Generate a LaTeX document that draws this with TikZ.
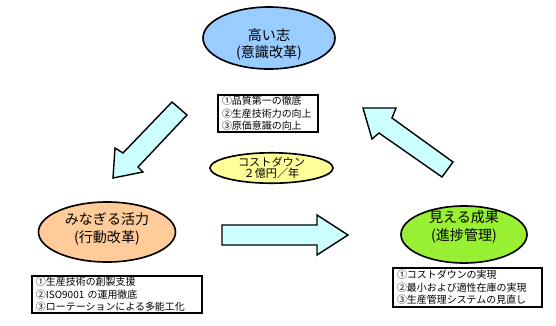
\documentclass[tikz,border=0pt]{standalone}
\usepackage{fontspec}
\setmainfont{Noto Sans CJK JP}
\definecolor{skyblue}{RGB}{153,204,255}
\definecolor{peach}{RGB}{255,204,153}
\definecolor{limegreen}{RGB}{153,240,50}
\definecolor{lemon}{RGB}{255,255,153}
\definecolor{palecyan}{RGB}{204,255,255}
\usepackage{tikz}
\usetikzlibrary{shapes.geometric}

\tikzset{
  topic/.style={ellipse, draw, line width=1.4pt, inner sep=0pt},
  topictext/.style={align=center, font=\fontsize{12pt}{15pt}\selectfont},
  infobox/.style={draw, line width=1.2pt, align=left, inner xsep=0.12cm,
                  inner ysep=0pt, font=\fontsize{8.5pt}{10.6pt}\selectfont},
  blockarrow/.style={draw, line width=1.2pt, fill=palecyan, line join=miter}
}

\begin{document}
\begin{tikzpicture}[x=0.03cm, y=-0.03cm]
  \useasboundingbox (0,0) rectangle (556,325);
  % three goals
  \node[topic, fill=skyblue, minimum width=3.96cm, minimum height=1.86cm,
        label={[topictext, yshift=-0.2cm]center:高い志\\(意識改革)}]
    (aim) at (269,38) {};
  \node[topic, fill=peach, minimum width=4.11cm, minimum height=1.8cm,
        label={[topictext, yshift=0.09cm]center:みなぎる活力\\(行動改革)}]
    (vigor) at (107,232) {};
  \node[topic, fill=limegreen, minimum width=3.78cm, minimum height=1.71cm,
        label={[topictext, yshift=0.22cm]center:見える成果\\(進捗管理)}]
    (result) at (464,234.5) {};
  \node[topic, fill=lemon, minimum width=3.69cm, minimum height=0.9cm,
        align=center, font=\fontsize{9.5pt}{9.5pt}\selectfont]
    (cost) at (271.5,168) {コストダウン\\２億円／年};
  % item lists
  \node[infobox, text width=2.76cm, minimum height=1.11cm] (aimlist) at (268,113.5)
    {①品質第一の徹底\\②生産技術力の向上\\③原価意識の向上};
  \node[infobox, text width=4.86cm, minimum height=1.11cm] (vigorlist) at (117,294.5)
    {①生産技術の創製支援\\②ISO9001 の運用徹底\\③ローテーションによる多能工化};
  \node[infobox, text width=4.23cm, minimum height=1.17cm] (resultlist) at (467.5,287.5)
    {①コストダウンの実現\\②最小および適性在庫の実現\\③生産管理システムの見直し};
  % cycle arrows
  \draw[blockarrow] (172,102) -- (123,153) -- (115,148) -- (113,178)
    -- (143,172) -- (138,167) -- (187,115) -- cycle;
  \draw[blockarrow] (222,225) -- (317,225) -- (317,215) -- (348,235)
    -- (317,255) -- (317,245) -- (222,245) -- cycle;
  \draw[blockarrow] (453,162) -- (392,118) -- (396,108) -- (363,108)
    -- (372,139) -- (379,133) -- (442,177) -- cycle;
\end{tikzpicture}
\end{document}
